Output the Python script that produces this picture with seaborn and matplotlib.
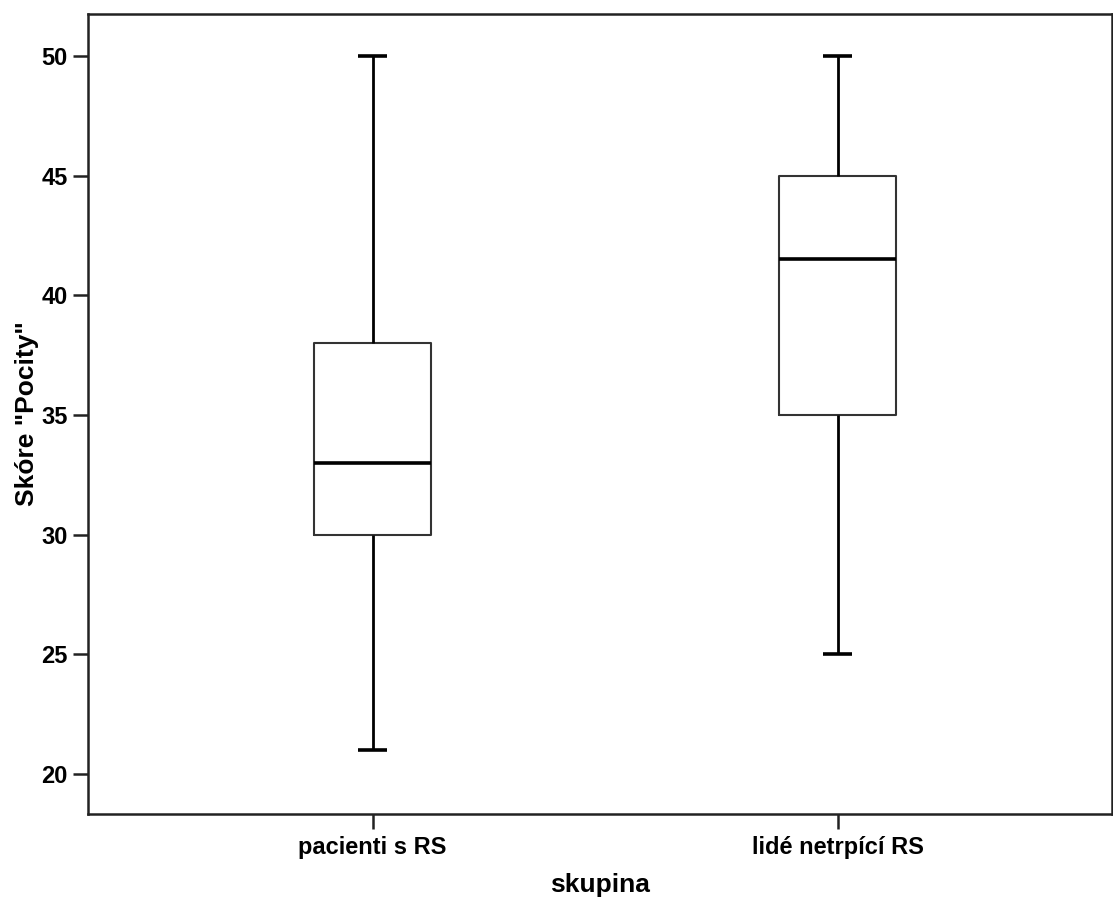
import numpy as np
import pandas as pd
import seaborn as sns
import matplotlib.pyplot as plt

# skupiny a pětičíselné souhrny (min, Q1, medián, Q3, max)
skupiny = ["pacienti s RS", "lidé netrpící RS"]
pacienti = [21, 30, 33, 38, 50]
zdravi = [25, 35, 41.5, 45, 50]
y_ticks = [20, 25, 30, 35, 40, 45, 50]

df = pd.DataFrame({
    "skupina": [skupiny[0]] * len(pacienti) + [skupiny[1]] * len(zdravi),
    "skore": pacienti + zdravi,
})

sns.set_style("ticks")
plt.rcParams["font.family"] = ["Liberation Sans", "DejaVu Sans"]
plt.rcParams["font.weight"] = "bold"
plt.rcParams["text.color"] = "black"
plt.rcParams["axes.labelcolor"] = "black"
plt.rcParams["xtick.labelcolor"] = "black"
plt.rcParams["ytick.labelcolor"] = "black"

fig = plt.figure(figsize=(11.13, 9), dpi=100)
ax = fig.add_axes([0.079, 0.0956, 0.92, 0.8888])

sns.boxplot(data=df, x="skupina", y="skore", order=skupiny, ax=ax,
            width=0.25, whis=(0, 100), fill=False, color="black",
            boxprops={"linewidth": 1.5, "color": "#333333"},
            whiskerprops={"linewidth": 2.0, "color": "black"},
            capprops={"linewidth": 2.6, "color": "black", "gid": "cap",
                      "solid_capstyle": "butt"},
            medianprops={"linewidth": 2.6, "color": "black"})

# SPSS-style short caps
for ln in ax.lines:
    if ln.get_gid() == "cap":
        xd = np.asarray(ln.get_xdata(), dtype=float)
        c = xd.mean()
        ln.set_xdata([c - 0.032, c + 0.032])

ax.set_xlim(-0.612, 1.59)
ax.set_ylim(18.33, 51.75)
ax.set_yticks(y_ticks)
ax.set_xlabel("skupina", fontsize=19, fontweight="bold", labelpad=10)
ax.set_ylabel('Skóre "Pocity"', fontsize=19, fontweight="bold", labelpad=2)
ax.tick_params(axis="both", labelsize=17, length=11, width=1.8, color="#222222")
ax.tick_params(axis="x", pad=5)
for lab in ax.get_xticklabels() + ax.get_yticklabels():
    lab.set_fontweight("bold")
for sp in ax.spines.values():
    sp.set_visible(True)
    sp.set_linewidth(1.8)
    sp.set_color("#222222")

fig.savefig("out.png", dpi=100)
